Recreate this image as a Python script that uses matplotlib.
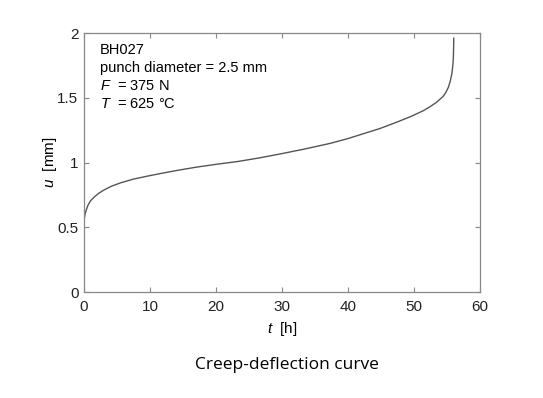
import numpy as np
import matplotlib
matplotlib.use("Agg")
import matplotlib.pyplot as plt

# creep-deflection readings: time [h], deflection [mm]
t_h = [0.0, 0.15, 0.35, 0.6, 1.0, 1.6, 2.3, 3.1, 4.2, 5.6, 7.5, 9.9, 12.0,
       14.2, 17.0, 20.0, 23.3, 26.5, 29.7, 33.5, 37.3, 40.0, 42.3, 44.8,
       47.4, 49.5, 51.4, 52.4, 53.4, 54.4, 54.8, 55.2, 55.5, 55.75, 55.9,
       55.97, 56.0, 56.02]
u_mm = [0.55, 0.60, 0.635, 0.67, 0.705, 0.736, 0.765, 0.79, 0.818, 0.844,
        0.872, 0.898, 0.919, 0.940, 0.964, 0.986, 1.008, 1.035, 1.066, 1.105,
        1.148, 1.185, 1.222, 1.262, 1.312, 1.355, 1.40, 1.43, 1.465, 1.51,
        1.54, 1.58, 1.63, 1.69, 1.76, 1.82, 1.89, 1.96]

info_lines = ["BH027", "punch diameter = 2.5 mm", r"$F$  = 375 N", r"$T$  = 625 °C"]

plt.rcParams["font.family"] = ["Liberation Sans", "DejaVu Sans"]
plt.rcParams["mathtext.fontset"] = "custom"
plt.rcParams["mathtext.it"] = "Liberation Sans:italic"

fig = plt.figure(figsize=(5.43, 3.98), dpi=100)
ax = fig.add_axes([0.1547, 0.2663, 0.7293, 0.6507])

ax.plot(t_h, u_mm, color="#555555", lw=1.0)

ax.set_xlim(0, 60)
ax.set_ylim(0, 2)
ax.set_xticks(np.arange(0, 61, 10))
ax.set_yticks([0, 0.5, 1, 1.5, 2])
ax.set_yticklabels(["0", "0.5", "1", "1.5", "2"])
ax.tick_params(direction="in", top=True, right=True, length=3.5,
               color="#888888", labelsize=11, labelcolor="#222222")
ax.tick_params(axis="x", pad=6)
ax.tick_params(axis="y", pad=4)
for s in ax.spines.values():
    s.set_color("#888888")
    s.set_linewidth(0.9)

ax.set_xlabel(r"$t$  [h]", fontsize=11, labelpad=4)
ax.set_ylabel(r"$u$  [mm]", fontsize=11, labelpad=-1)

# annotation block in the upper left corner
x0, y0, dy = 0.04, 0.96, 0.069
for i, line in enumerate(info_lines):
    ax.text(x0, y0 - i * dy, line, transform=ax.transAxes, fontsize=10.5,
            va="top")

fig.text(0.528, 0.083, "Creep-deflection curve", ha="center", va="center",
         fontsize=12.5, family=["Open Sans", "DejaVu Sans"])

fig.savefig("out.png", dpi=100)
